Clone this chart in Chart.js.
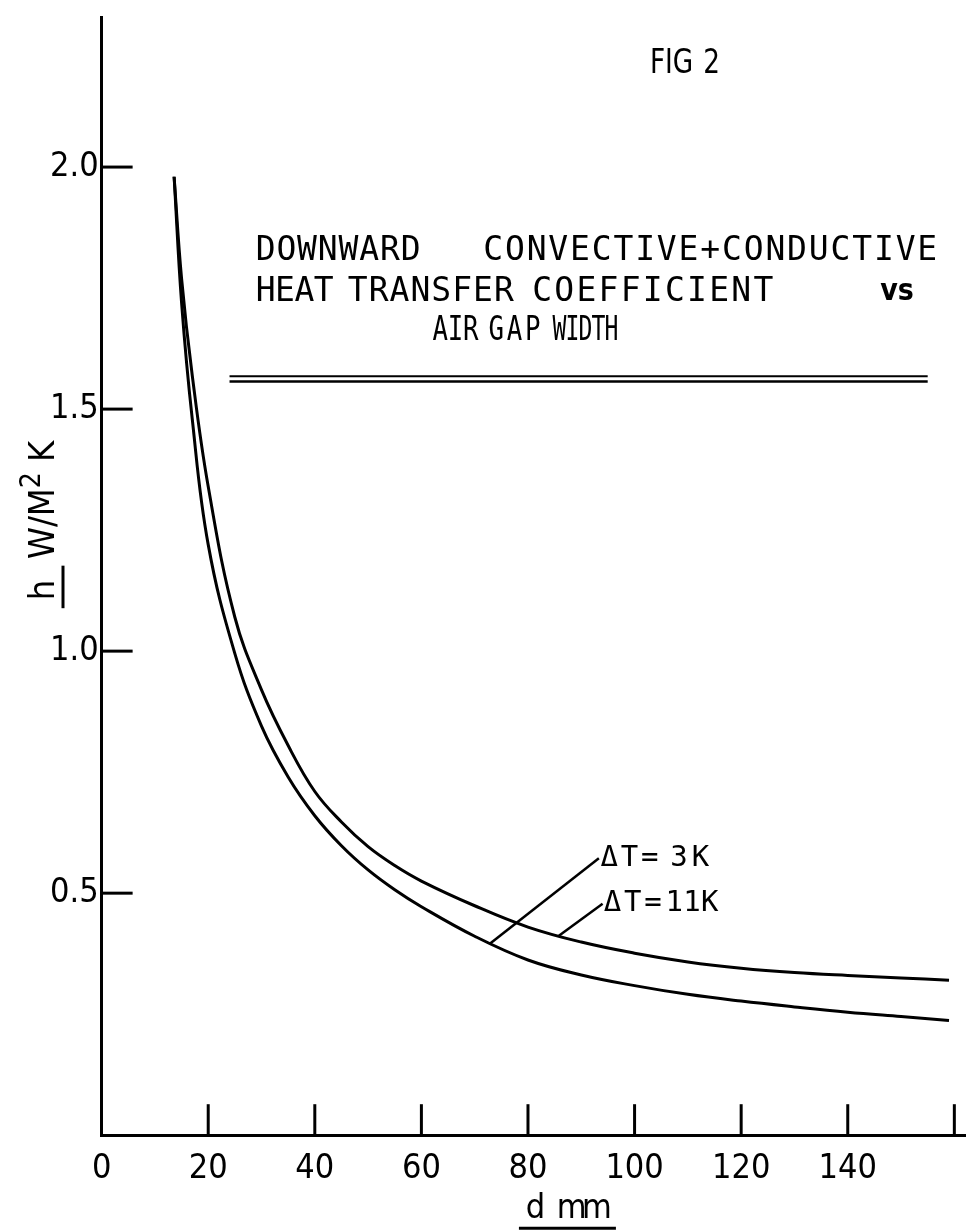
<!DOCTYPE html>
<html>
<head>
<meta charset="utf-8">
<script src="https://cdn.jsdelivr.net/npm/chart.js@4.4.0/dist/chart.umd.min.js"></script>
<style>
  html, body { margin: 0; padding: 0; background: #fff; }
  #wrap { width: 970px; height: 1231px; }
</style>
</head>
<body>
<div id="wrap"><canvas id="myChart" width="970" height="1231"></canvas></div>
<script>
// values (d in mm, h in W/m2K)
var dGap = [13.6, 15, 17, 20, 25, 30, 35, 40, 45, 50, 55, 60, 70, 80, 90, 100, 110, 120, 130, 140, 150, 159];
var h3K  = [1.98, 1.72, 1.48, 1.22, 0.995, 0.845, 0.74, 0.66, 0.598, 0.548, 0.507, 0.472, 0.411, 0.362, 0.331, 0.309, 0.291, 0.277, 0.265, 0.254, 0.245, 0.237];
var h11K = [1.98, 1.77, 1.57, 1.34, 1.07, 0.92, 0.805, 0.71, 0.647, 0.596, 0.557, 0.525, 0.474, 0.430, 0.399, 0.376, 0.358, 0.345, 0.336, 0.330, 0.325, 0.320];

var xTickMarks  = [20, 40, 60, 80, 100, 120, 140, 160];
var xTickLabels = ['0', '20', '40', '60', '80', '100', '120', '140', ''];
var yTickMarks  = [0.5, 1.0, 1.5, 2.0];
var yTickLabels = ['0.5', '1.0', '1.5', '2.0'];

// leader lines from the labels to the curves
var leader3K  = [[93.3, 0.572], [72.9, 0.396]];
var leader11K = [[94.0, 0.478], [85.8, 0.412]];
// double rule under the title
var ruleD = [24, 155];
var ruleH = [1.568, 1.557];

var FONT = "'DejaVu Sans Condensed', 'DejaVu Sans', sans-serif";
var MONO = "'DejaVu Sans Mono', 'Liberation Mono', monospace";
var ctx = document.getElementById('myChart').getContext('2d');

function pts(xs, ys) {
  var out = [];
  xs.forEach(function (x, i) { out.push({ x: x, y: ys[i] }); });
  return out;
}
function seg(p) {
  return [{ x: p[0][0], y: p[0][1] }, { x: p[1][0], y: p[1][1] }];
}

// stencil lettering: even-width letters stretched to the width on the sheet
function word(c, txt, x, y, width, sq) {
  sq = sq || 1;
  c.save();
  c.letterSpacing = '0px';
  var w = c.measureText(txt).width;
  var sp = (width / sq - w) / Math.max(1, txt.length - 1);
  c.translate(x, y);
  c.scale(sq, 1);
  c.letterSpacing = sp + 'px';
  c.fillText(txt, 0, 0);
  c.restore();
}

var labelsPlugin = {
  id: 'labels',
  afterDraw: function (chart) {
    var c = chart.ctx;
    var xs = chart.scales.x, ys = chart.scales.y;
    var X = function (v) { return xs.getPixelForValue(v); };
    var Y = function (v) { return ys.getPixelForValue(v); };
    c.save();
    c.fillStyle = '#000';
    c.strokeStyle = '#000';

    // inward tick marks
    c.lineWidth = 3;
    xTickMarks.forEach(function (v) {
      c.beginPath();
      c.moveTo(X(v), Y(0));
      c.lineTo(X(v), Y(0) - 31);
      c.stroke();
    });
    yTickMarks.forEach(function (v) {
      c.beginPath();
      c.moveTo(X(0), Y(v));
      c.lineTo(X(0) + 31, Y(v));
      c.stroke();
    });

    c.textBaseline = 'middle';
    c.textAlign = 'left';

    c.font = '34px ' + FONT;
    word(c, 'FIG', X(102.9), Y(2.212), 43, 0.86);
    word(c, '2', X(112.9), Y(2.212), 14, 0.86);

    c.font = '33px ' + MONO;
    word(c, 'DOWNWARD', X(28.9), Y(1.825), 165);
    word(c, 'CONVECTIVE+CONDUCTIVE', X(71.6), Y(1.825), 454);
    word(c, 'HEAT', X(28.9), Y(1.742), 78);
    word(c, 'TRANSFER', X(46.2), Y(1.742), 166);
    word(c, 'COEFFICIENT', X(80.8), Y(1.742), 241);
    c.font = 'bold 30px ' + FONT;
    c.fillText('vs', X(146.1), Y(1.742));
    c.font = '33px ' + MONO;
    word(c, 'AIR', X(62.1), Y(1.66), 46, 0.78);
    word(c, 'GAP', X(72.6), Y(1.66), 52, 0.78);
    word(c, 'WIDTH', X(84.6), Y(1.66), 66, 0.7);

    c.font = '29px ' + MONO;
    word(c, '\u0394T=', X(93.6), Y(0.571), 58);
    word(c, '3K', X(106.7), Y(0.571), 39);
    word(c, '\u0394T=', X(94.2), Y(0.478), 58);
    word(c, '11K', X(105.8), Y(0.478), 53);

    // x axis title, underlined
    c.font = '34px ' + FONT;
    word(c, 'd', X(79.6), Y(-0.152), 17);
    word(c, 'mm', X(85.4), Y(-0.152), 55);
    c.lineWidth = 3;
    c.beginPath();
    c.moveTo(X(78.3), Y(-0.192));
    c.lineTo(X(96.5), Y(-0.192));
    c.stroke();

    // y axis title, rotated, h underlined
    c.translate(45, Y(1.27));
    c.rotate(-Math.PI / 2);
    c.textAlign = 'left';
    c.font = '36px ' + FONT;
    var a = 'h', b = '  W/M', sup = '2', k = ' K';
    var wa = c.measureText(a).width, wb = c.measureText(b).width, wk = c.measureText(k).width;
    c.font = '28px ' + FONT;
    var ws = c.measureText(sup).width;
    var start = -(wa + wb + ws + wk) / 2;
    c.font = '36px ' + FONT;
    c.fillText(a, start, 0);
    c.fillText(b, start + wa, 0);
    c.fillText(k, start + wa + wb + ws, 0);
    c.font = '28px ' + FONT;
    c.fillText(sup, start + wa + wb, -12);
    c.lineWidth = 3;
    c.beginPath();
    c.moveTo(start - 8, 18);
    c.lineTo(start + wa + 14, 18);
    c.stroke();
    c.restore();
  }
};

var lineStyle = { borderColor: '#000', pointRadius: 0, fill: false };

new Chart(ctx, {
  type: 'line',
  data: {
    datasets: [
      Object.assign({ label: '\u0394T=3K', data: pts(dGap, h3K), borderWidth: 3, tension: 0.4 }, lineStyle),
      Object.assign({ label: '\u0394T=11K', data: pts(dGap, h11K), borderWidth: 3, tension: 0.4 }, lineStyle),
      Object.assign({ label: 'leader 3K', data: seg(leader3K), borderWidth: 2.5 }, lineStyle),
      Object.assign({ label: 'leader 11K', data: seg(leader11K), borderWidth: 2.5 }, lineStyle),
      Object.assign({ label: 'rule a', data: [{ x: ruleD[0], y: ruleH[0] }, { x: ruleD[1], y: ruleH[0] }], borderWidth: 2 }, lineStyle),
      Object.assign({ label: 'rule b', data: [{ x: ruleD[0], y: ruleH[1] }, { x: ruleD[1], y: ruleH[1] }], borderWidth: 2.5 }, lineStyle)
    ]
  },
  options: {
    responsive: false,
    animation: false,
    layout: { padding: { left: 47, right: 5, top: 17, bottom: 27 } },
    plugins: { legend: { display: false }, tooltip: { enabled: false } },
    scales: {
      x: {
        type: 'linear',
        min: 0,
        max: 162,
        afterBuildTicks: function (s) { s.ticks = [0, 20, 40, 60, 80, 100, 120, 140, 160].map(function (v) { return { value: v }; }); },
        ticks: {
          autoSkip: false,
          maxRotation: 0,
          padding: 14,
          color: '#000',
          font: { family: FONT, size: 34 },
          callback: function (v, i) { return xTickLabels[i]; }
        },
        grid: { display: false, drawTicks: false },
        border: { display: true, color: '#000', width: 3 }
      },
      y: {
        type: 'linear',
        min: 0,
        max: 2.31,
        afterBuildTicks: function (s) { s.ticks = yTickMarks.map(function (v) { return { value: v }; }); },
        ticks: {
          padding: 3,
          color: '#000',
          font: { family: FONT, size: 34, lineHeight: 0.8 },
          callback: function (v, i) { return yTickLabels[i]; }
        },
        grid: { display: false, drawTicks: false },
        border: { display: true, color: '#000', width: 3 }
      }
    }
  },
  plugins: [labelsPlugin]
});
</script>
</body>
</html>
